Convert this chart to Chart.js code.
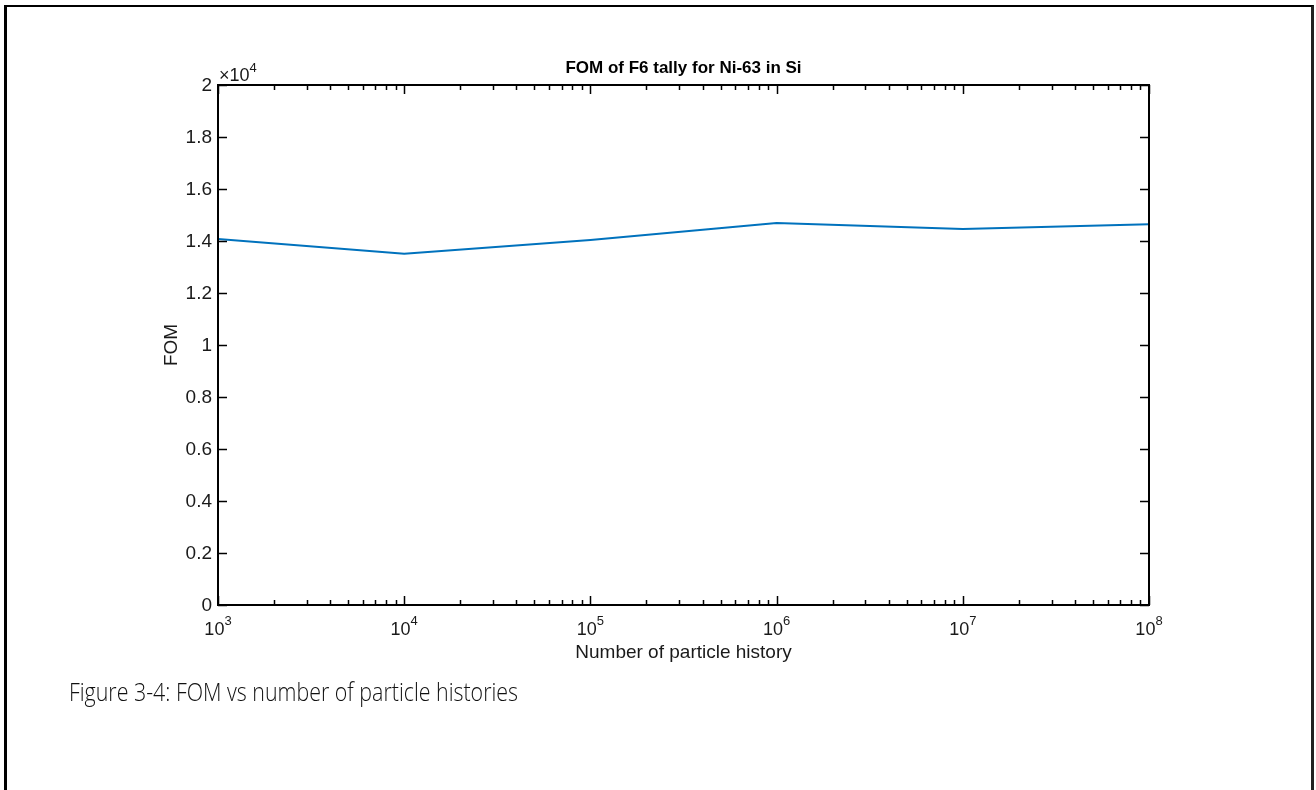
<!DOCTYPE html>
<html>
<head>
<meta charset="utf-8">
<script src="https://cdn.jsdelivr.net/npm/chart.js@4"></script>
<style>
  html, body { margin: 0; padding: 0; background: #fff; overflow: hidden; }
  #wrap { position: relative; width: 1316px; height: 790px; }
  #frame {
    position: absolute; left: 4px; top: 5px; width: 1304px; height: 800px;
    border-left: 3px solid #000; border-top: 2px solid #000; border-right: 3px solid #222;
  }
  canvas { position: absolute; left: 0; top: 0; }
</style>
</head>
<body>
<div id="wrap">
  <div id="frame"></div>
  <canvas id="fomChart" width="1316" height="790"></canvas>
</div>
<script>
// data
const histories = [1e3, 1e4, 1e5, 1e6, 1e7, 1e8];
const fom = [14080, 13510, 14040, 14690, 14460, 14640];
const yTicks = [0, 2000, 4000, 6000, 8000, 10000, 12000, 14000, 16000, 18000, 20000];
const yTickLabels = ['0', '0.2', '0.4', '0.6', '0.8', '1', '1.2', '1.4', '1.6', '1.8', '2'];
const xExponents = [3, 4, 5, 6, 7, 8];

const titleText = 'FOM of F6 tally for Ni-63 in Si';
const xTitle = 'Number of particle history';
const yTitle = 'FOM';
const captionText = 'Figure 3-4: FOM vs number of particle histories';

const FONT = '"Liberation Sans", Arial, sans-serif';

// matlab style axes: box, inward ticks, labels with superscripts
const matlabAxes = {
    id: 'matlabAxes',
    afterDraw(chart) {
        const ctx = chart.ctx;
        const a = chart.chartArea;
        const xs = chart.scales.x;
        const ys = chart.scales.y;
        ctx.save();
        ctx.strokeStyle = '#000';
        ctx.lineWidth = 2;
        ctx.strokeRect(a.left, a.top, a.right - a.left, a.bottom - a.top);

        ctx.lineWidth = 1.5;
        ctx.beginPath();
        // y ticks
        yTicks.forEach(v => {
            const y = Math.round(ys.getPixelForValue(v)) + 0.5;
            ctx.moveTo(a.left, y); ctx.lineTo(a.left + 9, y);
            ctx.moveTo(a.right, y); ctx.lineTo(a.right - 9, y);
        });
        // x ticks, major and minor
        xExponents.forEach((e, i) => {
            const x = Math.round(xs.getPixelForValue(Math.pow(10, e))) + 0.5;
            ctx.moveTo(x, a.bottom); ctx.lineTo(x, a.bottom - 9);
            ctx.moveTo(x, a.top); ctx.lineTo(x, a.top + 9);
            if (i < xExponents.length - 1) {
                for (let m = 2; m <= 9; m++) {
                    const xm = Math.round(xs.getPixelForValue(m * Math.pow(10, e))) + 0.5;
                    ctx.moveTo(xm, a.bottom); ctx.lineTo(xm, a.bottom - 5);
                    ctx.moveTo(xm, a.top); ctx.lineTo(xm, a.top + 5);
                }
            }
        });
        ctx.stroke();

        ctx.fillStyle = '#1a1a1a';
        ctx.font = '19px ' + FONT;
        ctx.textBaseline = 'middle';
        ctx.textAlign = 'right';
        yTicks.forEach((v, i) => {
            ctx.fillText(yTickLabels[i], a.left - 6, ys.getPixelForValue(v) + 1);
        });

        // x tick labels 10^n
        ctx.textBaseline = 'alphabetic';
        xExponents.forEach(e => {
            const x = xs.getPixelForValue(Math.pow(10, e));
            ctx.font = '18px ' + FONT;
            const wb = ctx.measureText('10').width;
            ctx.font = '13px ' + FONT;
            const we = ctx.measureText(String(e)).width;
            const x0 = x - (wb + we) / 2;
            ctx.textAlign = 'left';
            ctx.font = '18px ' + FONT;
            ctx.fillText('10', x0, a.bottom + 30);
            ctx.font = '13px ' + FONT;
            ctx.fillText(String(e), x0 + wb, a.bottom + 20);
        });

        // exponent marker above y axis
        ctx.font = '18px ' + FONT;
        ctx.textAlign = 'left';
        ctx.fillText('\u00d710', a.left + 1, a.top - 4);
        const wx = ctx.measureText('\u00d710').width;
        ctx.font = '13px ' + FONT;
        ctx.fillText('4', a.left + 1 + wx, a.top - 13);

        // axis titles
        ctx.textAlign = 'center';
        ctx.font = '19px ' + FONT;
        ctx.fillText(xTitle, (a.left + a.right) / 2, a.bottom + 53);
        ctx.save();
        ctx.translate(a.left - 41, (a.top + a.bottom) / 2);
        ctx.rotate(-Math.PI / 2);
        ctx.fillText(yTitle, 0, 0);
        ctx.restore();

        ctx.fillStyle = '#000';
        ctx.font = 'bold 17px ' + FONT;
        ctx.fillText(titleText, (a.left + a.right) / 2, a.top - 12);

        // figure caption
        ctx.fillStyle = '#111';
        ctx.font = '300 25px "Open Sans", "Noto Sans", sans-serif';
        ctx.textAlign = 'left';
        const w = ctx.measureText(captionText).width;
        ctx.translate(69, 701);
        ctx.scale(449 / w, 1);
        ctx.fillText(captionText, 0, 0);
        ctx.restore();
    }
};

const ctx = document.getElementById('fomChart').getContext('2d');
new Chart(ctx, {
    type: 'line',
    data: {
        labels: histories,
        datasets: [{
            label: 'FOM',
            data: histories.map((h, i) => ({ x: h, y: fom[i] })),
            borderColor: '#0072BD',
            borderWidth: 2,
            pointRadius: 0,
            tension: 0,
            fill: false
        }]
    },
    options: {
        responsive: false,
        animation: false,
        devicePixelRatio: 1,
        layout: { padding: { left: 218, top: 85, right: 167, bottom: 185 } },
        plugins: { legend: { display: false }, tooltip: { enabled: false } },
        scales: {
            x: { type: 'logarithmic', min: 1e3, max: 1e8, display: false },
            y: { type: 'linear', min: 0, max: 20000, display: false }
        }
    },
    plugins: [matlabAxes]
});
</script>
</body>
</html>
